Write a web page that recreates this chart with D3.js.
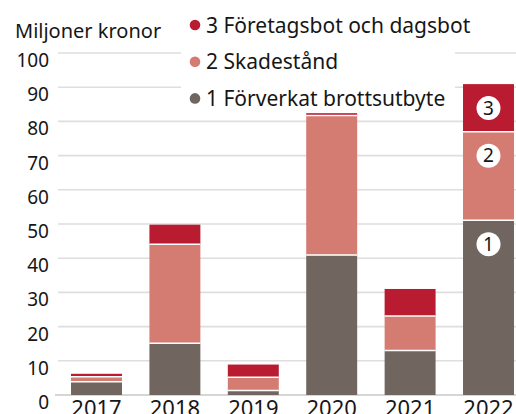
<!DOCTYPE html>
<html><head><meta charset="utf-8">
<script src="https://cdn.jsdelivr.net/npm/d3@7"></script>
<style>body{margin:0;background:#fff}svg{display:block}text{font-family:"Noto Sans",sans-serif;fill:#161616}</style>
</head><body><svg id="c" width="516" height="414"></svg>
<script>
const years = ["2017","2018","2019","2020","2021","2022"];
const forverkat = [3.9, 15.1, 1.3, 40.9, 13.0, 51.1];
const skadestand = [1.4, 29.0, 3.9, 40.8, 10.1, 25.9];
const foretagsbot = [0.9, 5.7, 3.7, 0.7, 7.9, 13.9];
const yTicks = [0,10,20,30,40,50,60,70,80,90,100];
const seriesNames = ["1 Förverkat brottsutbyte","2 Skadestånd","3 Företagsbot och dagsbot"];
const colors = ["#70665f","#d47b72","#b91b30"];

const svg = d3.select("#c");
const y = d3.scaleLinear().domain([0,100]).range([395,53]);
const x = d3.scaleBand().domain(years).range([57.3,527.7]).paddingInner(0.35).paddingOuter(0.175);

// gridlines
svg.append("g").selectAll("line").data(yTicks.filter(d=>d>0)).join("line")
  .attr("x1",58).attr("x2",516).attr("y1",d=>y(d)).attr("y2",d=>y(d))
  .attr("stroke","#dedede").attr("stroke-width",1.6);
svg.append("line").attr("x1",55).attr("x2",516).attr("y1",y(0)).attr("y2",y(0))
  .attr("stroke","#d6d6d6").attr("stroke-width",2.2);

// y labels
svg.append("g").selectAll("text").data(yTicks).join("text")
  .attr("x",49).attr("y",d=>y(d)+14).attr("text-anchor","end")
  .attr("font-size",19).text(d=>d);

// stacked data
const rows = years.map((yr,i)=>({year:yr, s0:forverkat[i], s1:skadestand[i], s2:foretagsbot[i]}));
const stack = d3.stack().keys(["s0","s1","s2"])(rows);

const g = svg.append("g");
stack.forEach((layer,li)=>{
  g.append("g").selectAll("rect").data(layer).join("rect")
    .attr("x",d=>x(d.data.year)).attr("width",x.bandwidth())
    .attr("y",d=>y(d[1])).attr("height",d=>y(d[0])-y(d[1]))
    .attr("fill",colors[li]);
});
// white separators
stack.slice(0,2).forEach(layer=>{
  g.append("g").selectAll("line").data(layer).join("line")
    .attr("x1",d=>x(d.data.year)).attr("x2",d=>x(d.data.year)+x.bandwidth())
    .attr("y1",d=>y(d[1])).attr("y2",d=>y(d[1]))
    .attr("stroke","#fff").attr("stroke-width",1.5);
});

// x labels
svg.append("g").selectAll("text").data(years).join("text")
  .attr("x",d=>x(d)+x.bandwidth()/2).attr("y",416).attr("text-anchor","middle")
  .attr("font-size",22).text(d=>d);

// numbered circles on last bar
const last = years[years.length-1];
stack.forEach((layer,li)=>{
  const d = layer[layer.length-1];
  const cx = x(last)+x.bandwidth()/2, cy = y(d[1])+24;
  svg.append("circle").attr("cx",cx).attr("cy",cy).attr("r",12).attr("fill","#fff");
  svg.append("text").attr("x",cx).attr("y",cy+6.8).attr("text-anchor","middle")
    .attr("font-size",19).text(li+1);
});

// title
svg.append("text").attr("x",15).attr("y",37.5).attr("font-size",20).text("Miljoner kronor");

// legend
const lg = svg.append("g");
lg.append("rect").attr("x",181).attr("y",0).attr("width",274).attr("height",112).attr("fill","#fff");
const legendItems = [2,1,0];
legendItems.forEach((si,k)=>{
  const cy = 25 + k*36.7;
  lg.append("circle").attr("cx",195).attr("cy",cy).attr("r",5.3).attr("fill",colors[si]);
  lg.append("text").attr("x",206).attr("y",cy+7.5).attr("font-size",21).text(seriesNames[si]);
});
</script></body></html>
